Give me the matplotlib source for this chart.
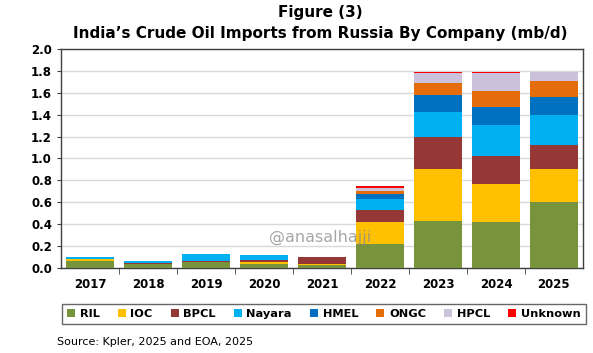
import numpy as np
import matplotlib.pyplot as plt

years = ["2017", "2018", "2019", "2020", "2021", "2022", "2023", "2024", "2025"]
companies = ["RIL", "IOC", "BPCL", "Nayara", "HMEL", "ONGC", "HPCL", "Unknown"]

# mb/d per company, one list per company
ril     = [0.060, 0.035, 0.050, 0.035, 0.030, 0.220, 0.427, 0.421, 0.605]
ioc     = [0.020, 0.005, 0.005, 0.020, 0.005, 0.200, 0.473, 0.342, 0.299]
bpcl    = [0.005, 0.005, 0.012, 0.020, 0.063, 0.113, 0.294, 0.263, 0.216]
nayara  = [0.012, 0.015, 0.063, 0.040, 0.000, 0.101, 0.229, 0.281, 0.280]
hmel    = [0.000, 0.000, 0.000, 0.000, 0.000, 0.045, 0.153, 0.162, 0.166]
ongc    = [0.003, 0.000, 0.000, 0.000, 0.005, 0.025, 0.113, 0.149, 0.138]
hpcl    = [0.000, 0.000, 0.000, 0.000, 0.000, 0.028, 0.091, 0.162, 0.091]
unknown = [0.000, 0.000, 0.000, 0.000, 0.000, 0.018, 0.010, 0.010, 0.000]

colors = ["#77933C", "#FFC000", "#953735", "#00B0F0", "#0070C0", "#E46C0A", "#CCC1DA", "#FF0000"]

series = [ril, ioc, bpcl, nayara, hmel, ongc, hpcl, unknown]

fig = plt.figure(figsize=(5.93, 3.53), dpi=100)
ax = fig.add_axes([0.103, 0.241, 0.880, 0.620])

x = np.arange(len(years))
bottom = np.zeros(len(years))
for name, vals, c in zip(companies, series, colors):
    ax.bar(x, vals, bottom=bottom, width=0.83, color=c, label=name, zorder=3)
    bottom += np.array(vals)

ax.set_ylim(0, 2.0)
ax.set_xlim(-0.5, len(years) - 0.5)
ax.set_yticks(np.arange(0, 2.01, 0.2))
ax.set_yticklabels(["%.1f" % v for v in np.arange(0, 2.01, 0.2)], fontsize=8.5, fontweight="bold")
ax.set_xticks(x)
ax.set_xticklabels(years, fontsize=8.5, fontweight="bold")
ax.set_xticks(np.arange(0.5, len(years) - 0.5, 1), minor=True)
ax.tick_params(axis="x", which="major", length=0, pad=7)
ax.tick_params(axis="x", which="minor", length=4, direction="out", color="#404040")
ax.tick_params(axis="y", length=3, color="#404040")
ax.yaxis.grid(True, color="#D9D9D9", linewidth=1, zorder=0)
for s in ax.spines.values():
    s.set_color("#404040")
    s.set_linewidth(1)

ax.text(0.496, 0.14, "@anasalhajji", transform=ax.transAxes, fontsize=11.5,
        color="#909090", alpha=0.8, ha="center", va="center", zorder=5)

fig.text(0.54, 0.965, "Figure (3)", ha="center", va="center", fontsize=11, fontweight="bold")
fig.text(0.54, 0.905, "India\u2019s Crude Oil Imports from Russia By Company (mb/d)",
         ha="center", va="center", fontsize=11, fontweight="bold")

leg = fig.legend(loc="center", bbox_to_anchor=(0.546, 0.110), ncol=8,
                 frameon=True, fancybox=False, handlelength=0.7, handleheight=0.7,
                 handletextpad=0.4, columnspacing=1.6, borderpad=0.45,
                 prop={"weight": "bold", "size": 8.2})
leg.get_frame().set_edgecolor("#404040")
leg.get_frame().set_linewidth(1)

fig.text(0.096, 0.032, "Source: Kpler, 2025 and EOA, 2025", ha="left", va="center", fontsize=8)

fig.savefig("out.png", dpi=100)
